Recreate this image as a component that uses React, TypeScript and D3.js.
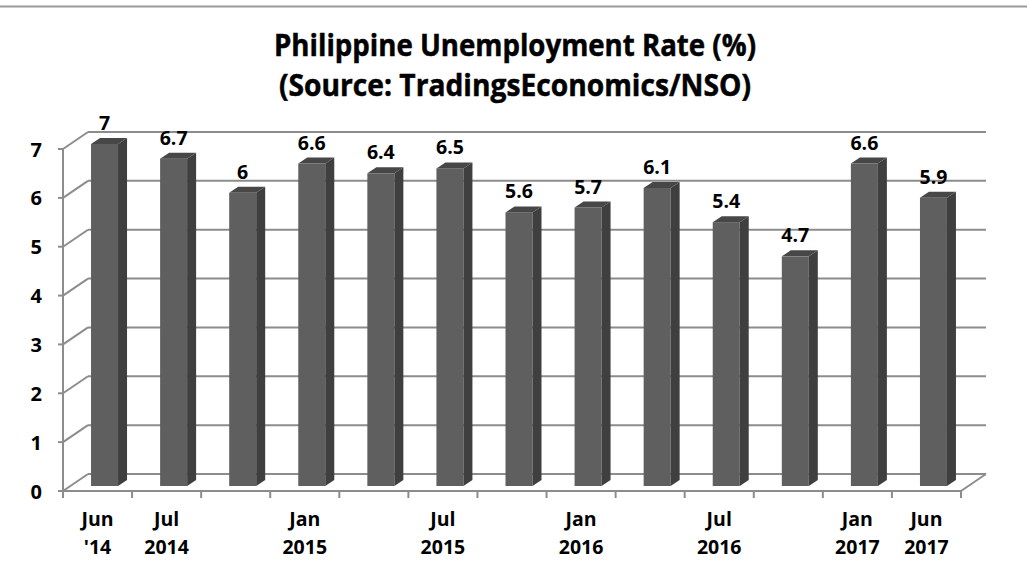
import React, { useRef, useEffect } from "react";
import * as d3 from "d3";

// data
const rates = [7, 6.7, 6, 6.6, 6.4, 6.5, 5.6, 5.7, 6.1, 5.4, 4.7, 6.6, 5.9];
const labelTop = ["Jun", "Jul", "", "Jan", "", "Jul", "", "Jan", "", "Jul", "", "Jan", "Jun"];
const labelBottom = ["'14", "2014", "", "2015", "", "2015", "", "2016", "", "2016", "", "2017", "2017"];
const yTicks = [0, 1, 2, 3, 4, 5, 6, 7];
const titleLines = ["Philippine Unemployment Rate (%)", "(Source: TradingsEconomics/NSO)"];

const App: React.FC = () => {
  const ref = useRef<SVGSVGElement>(null);

  useEffect(() => {
    if (!ref.current) return;
    const svg = d3.select(ref.current);
    svg.selectAll("*").remove();

    const width = 1027;
    const height = 570;
    const font = "'Open Sans', 'Liberation Sans', sans-serif";
    const grid = "#8c8c8c";

    // depth of the 3d box and of each bar
    const wallDx = 25, wallDy = -17;
    const barOffDx = 7, barOffDy = -5;
    const barDx = 9, barDy = -6;

    const x = d3
      .scaleBand<number>()
      .domain(d3.range(rates.length))
      .range([63, 961]);
    const y = d3.scaleLinear().domain([0, 7]).range([491, 149]);

    // top border line
    svg.append("line")
      .attr("x1", 0).attr("x2", width).attr("y1", 6.5).attr("y2", 6.5)
      .attr("stroke", "#9a9a9a").attr("stroke-width", 2);

    // title
    svg.append("g").selectAll("text").data(titleLines).join("text")
      .attr("x", 515).attr("y", (d, i) => 56 + i * 40)
      .attr("text-anchor", "middle")
      .attr("font-family", font).attr("font-weight", "bold")
      .attr("font-size", 31)
      .attr("textLength", (d, i) => (i === 0 ? 482 : 472))
      .attr("lengthAdjust", "spacingAndGlyphs")
      .attr("fill", "#000").attr("stroke", "#000").attr("stroke-width", 0.5)
      .text((d) => d);

    const g = svg.append("g")
      .attr("fill", "none").attr("stroke", grid).attr("stroke-width", 2);

    const x0 = x.range()[0], x1 = x.range()[1];

    // back wall gridlines
    g.selectAll(".back").data(yTicks).join("line")
      .attr("x1", x0 + wallDx).attr("x2", x1 + wallDx)
      .attr("y1", (d) => y(d) + wallDy).attr("y2", (d) => y(d) + wallDy);

    // side wall diagonals
    g.selectAll(".side").data(yTicks).join("line")
      .attr("x1", x0).attr("x2", x0 + wallDx)
      .attr("y1", (d) => y(d)).attr("y2", (d) => y(d) + wallDy);

    // y-axis line and ticks
    g.append("line")
      .attr("x1", x0).attr("x2", x0).attr("y1", y(0)).attr("y2", y(7));
    g.selectAll(".ytick").data(yTicks).join("line")
      .attr("x1", x0 - 5).attr("x2", x0).attr("y1", (d) => y(d)).attr("y2", (d) => y(d));

    // floor front and right edge
    g.append("line")
      .attr("x1", x0).attr("x2", x1).attr("y1", y(0)).attr("y2", y(0));
    g.append("line")
      .attr("x1", x1).attr("x2", x1 + wallDx).attr("y1", y(0)).attr("y2", y(0) + wallDy);

    // x ticks at category edges
    const edges = d3.range(rates.length + 1).map((i) => x0 + i * x.step());
    g.selectAll(".xtick").data(edges).join("line")
      .attr("x1", (d) => d).attr("x2", (d) => d)
      .attr("y1", y(0)).attr("y2", y(0) + 7);

    // y tick labels
    svg.append("g").selectAll("text").data(yTicks).join("text")
      .attr("x", 42).attr("y", (d) => y(d) + 7.5)
      .attr("text-anchor", "end")
      .attr("font-family", font).attr("font-weight", "bold").attr("font-size", 20)
      .text((d) => d);

    // bars
    const bw = 27;
    const bars = svg.append("g").selectAll("g").data(rates).join("g");
    const bx = (i: number) => (x(i) as number) + (x.bandwidth() - bw) / 2 + barOffDx;
    const by0 = y(0) + barOffDy;
    const byTop = (v: number) => y(v) + barOffDy;

    bars.append("rect")
      .attr("x", (d, i) => bx(i)).attr("y", (d) => byTop(d))
      .attr("width", bw).attr("height", (d) => by0 - byTop(d))
      .attr("fill", "#5f5f5f");

    // right side face
    bars.append("path")
      .attr("d", (d, i) => {
        const l = bx(i) + bw;
        const t = byTop(d);
        return `M${l},${t}L${l + barDx},${t + barDy}L${l + barDx},${by0 + barDy}L${l},${by0}Z`;
      })
      .attr("fill", "#3f3f3f");

    // top face
    bars.append("path")
      .attr("d", (d, i) => {
        const l = bx(i);
        const t = byTop(d);
        return `M${l},${t}L${l + barDx},${t + barDy}L${l + bw + barDx},${t + barDy}L${l + bw},${t}Z`;
      })
      .attr("fill", "#474747");

    // value labels
    svg.append("g").selectAll("text").data(rates).join("text")
      .attr("x", (d, i) => bx(i) + bw / 2)
      .attr("y", (d) => byTop(d) - 14)
      .attr("text-anchor", "middle")
      .attr("font-family", font).attr("font-weight", "bold").attr("font-size", 19.5)
      .text((d) => d);

    // category labels
    const xl = svg.append("g").selectAll("text").data(rates).join("text")
      .attr("text-anchor", "middle")
      .attr("font-family", font).attr("font-weight", "bold").attr("font-size", 19.5);
    xl.append("tspan")
      .attr("x", (d, i) => (x(i) as number) + x.bandwidth() / 2)
      .attr("y", 526)
      .text((d, i) => labelTop[i]);
    xl.append("tspan")
      .attr("x", (d, i) => (x(i) as number) + x.bandwidth() / 2)
      .attr("y", 554)
      .text((d, i) => labelBottom[i]);

    svg.attr("width", width).attr("height", height);
  }, []);

  return (
    <svg
      ref={ref}
      style={{ position: "absolute", left: 0, top: 0, background: "#fff" }}
    />
  );
};

export default App;
